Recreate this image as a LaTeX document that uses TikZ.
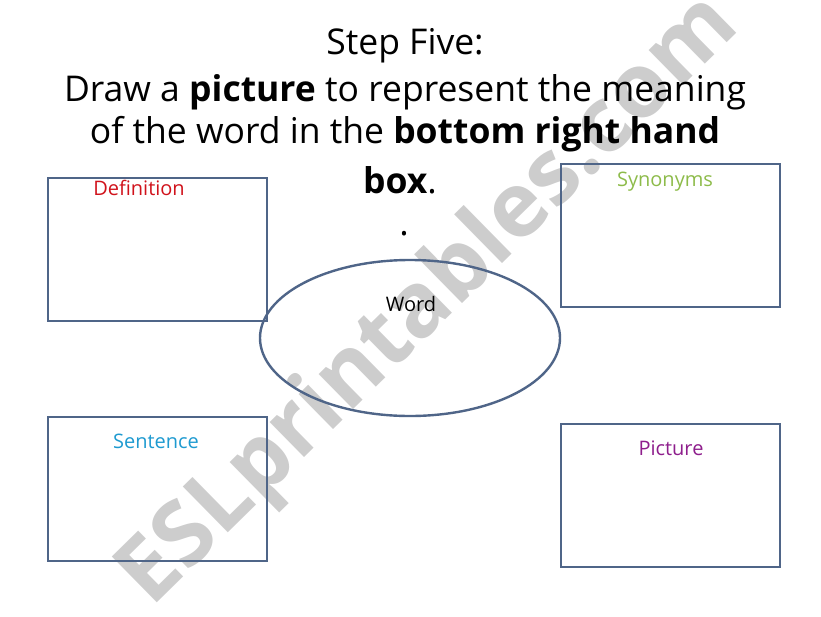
\documentclass[tikz,border=0pt]{standalone}
\usepackage{fontspec}
\setmainfont{Open Sans}
\usetikzlibrary{shapes.geometric}
\definecolor{boxline}{HTML}{4F6588}
\definecolor{defred}{HTML}{D0121B}
\definecolor{syngreen}{HTML}{8DBB4A}
\definecolor{senblue}{HTML}{1E9AD0}
\definecolor{picpurple}{HTML}{8E1E8C}
\definecolor{wmgray}{HTML}{C4C4C4}
\tikzset{
  x=1pt, y=-1pt,
  panel/.style={draw=boxline, line width=2.4pt},
  label/.style={font=\fontsize{20}{24}\selectfont, inner sep=0pt},
  title/.style={font=\fontsize{35.5}{40}\selectfont, inner sep=0pt},
}
\begin{document}
\begin{tikzpicture}
\useasboundingbox (0,0) rectangle (821,616);
% watermark
\node[text=wmgray, opacity=0.85, rotate=44.5, font=\fontsize{90}{96}\bfseries\selectfont, inner sep=0pt] (wm) at (430,302) {ESLprintables.com};
% title
\node[title] (t1) at (405,46) {Step Five:};
\node[title] (t2) at (405,92) {Draw a \textbf{picture} to represent the meaning};
\node[title] (t3) at (405,134) {of the word in the \textbf{bottom right hand}};
\node[title] (t4) at (400,180) {\textbf{box}.};
\node[title] (t5) at (404,234) {.};
% boxes
\draw[panel] (48,178) rectangle (267,321);
\draw[panel] (561,164) rectangle (780,307);
\draw[panel] (48,417) rectangle (267,561);
\draw[panel] (561,424) rectangle (780,567);
\node[panel, ellipse, minimum width=300pt, minimum height=156pt, inner sep=0pt] (word) at (410,338) {};
% labels
\node[label, text=defred] (ldef) at (139,188) {Definition};
\node[label, text=syngreen] (lsyn) at (665,182) {Synonyms};
\node[label, text=senblue] (lsen) at (156,441) {Sentence};
\node[label, text=picpurple] (lpic) at (671,448) {Picture};
\node[label] (lword) at (411,304) {Word};
\end{tikzpicture}
\end{document}
